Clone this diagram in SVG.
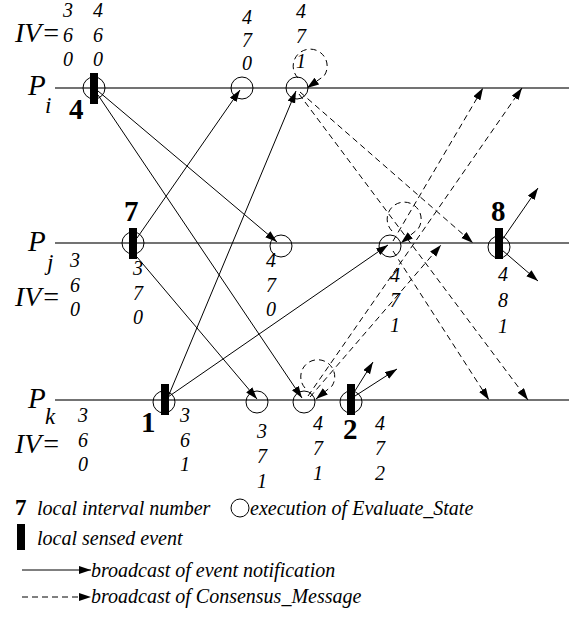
<svg xmlns="http://www.w3.org/2000/svg" width="583" height="619" viewBox="0 0 583 619">
<style>
.proc{stroke:#444;stroke-width:1.3;fill:none}
.ev{fill:none;stroke:#000;stroke-width:1}
.bar{fill:#000}
.sol{stroke:#000;stroke-width:1;fill:none;marker-end:url(#ah)}
.dsh{stroke:#000;stroke-width:1;fill:none;stroke-dasharray:6 4;marker-end:url(#ah)}
.lbl{font-family:'Liberation Serif','Times New Roman',Times,serif;font-style:italic;fill:#000}
.big{font-size:29px}
.sub{font-size:23px}
.iv{font-size:28px}
.col{font-size:20px}
.num{font-family:'Liberation Serif','Times New Roman',Times,serif;font-weight:bold;font-size:29px;fill:#000}
.leg{font-size:20px}
</style>
<defs>
<marker id="ah" markerUnits="userSpaceOnUse" markerWidth="13" markerHeight="9" refX="12" refY="4" orient="auto">
<path d="M0,0 L12,4 L0,8 z" fill="#000"/>
</marker>
</defs>
<g id="process-lines">
<line class="proc" x1="55" y1="88" x2="569" y2="88"/>
<line class="proc" x1="55" y1="243" x2="569" y2="243"/>
<line class="proc" x1="55" y1="400" x2="569" y2="400"/>
</g>
<g id="process-labels" class="lbl">
<text class="big" x="28" y="95">P</text><text class="sub" x="45" y="113">i</text>
<text class="big" x="28" y="251">P</text><text class="sub" x="47" y="270">j</text>
<text class="big" x="28" y="408">P</text><text class="sub" x="45" y="424">k</text>
<text class="iv" x="15" y="42">IV=</text>
<text class="iv" x="15" y="306">IV=</text>
<text class="iv" x="15" y="453">IV=</text>
</g>
<g id="iv-values" class="lbl col">
<text x="63"><tspan x="63" y="17">3</tspan><tspan x="63" y="42">6</tspan><tspan x="63" y="66">0</tspan></text>
<text x="93"><tspan x="93" y="17">4</tspan><tspan x="93" y="42">6</tspan><tspan x="93" y="66">0</tspan></text>
<text x="242"><tspan x="242" y="24">4</tspan><tspan x="242" y="47">7</tspan><tspan x="242" y="70">0</tspan></text>
<text x="296"><tspan x="296" y="18">4</tspan><tspan x="296" y="43">7</tspan><tspan x="296" y="68">1</tspan></text>
<text x="70"><tspan x="70" y="267">3</tspan><tspan x="70" y="292">6</tspan><tspan x="70" y="316">0</tspan></text>
<text x="133"><tspan x="133" y="275">3</tspan><tspan x="133" y="300">7</tspan><tspan x="133" y="324">0</tspan></text>
<text x="266"><tspan x="266" y="267">4</tspan><tspan x="266" y="292">7</tspan><tspan x="266" y="316">0</tspan></text>
<text x="390"><tspan x="390" y="282">4</tspan><tspan x="390" y="307">7</tspan><tspan x="390" y="332">1</tspan></text>
<text x="498"><tspan x="498" y="281">4</tspan><tspan x="498" y="307">8</tspan><tspan x="498" y="333">1</tspan></text>
<text x="78"><tspan x="78" y="422">3</tspan><tspan x="78" y="447">6</tspan><tspan x="78" y="471">0</tspan></text>
<text x="180"><tspan x="180" y="422">3</tspan><tspan x="180" y="447">6</tspan><tspan x="180" y="471">1</tspan></text>
<text x="257"><tspan x="257" y="438">3</tspan><tspan x="257" y="463">7</tspan><tspan x="257" y="488">1</tspan></text>
<text x="313"><tspan x="313" y="430">4</tspan><tspan x="313" y="455">7</tspan><tspan x="313" y="480">1</tspan></text>
<text x="375"><tspan x="375" y="430">4</tspan><tspan x="375" y="455">7</tspan><tspan x="375" y="480">2</tspan></text>
</g>
<g id="pi-e4"><circle class="ev" cx="94" cy="88" r="11"/><rect class="bar" x="90" y="73" width="8" height="31"/><text class="num" x="69" y="119">4</text></g>
<g id="pi-c1"><circle class="ev" cx="242" cy="88" r="11"/></g>
<g id="pi-c2"><circle class="ev" cx="297" cy="88" r="11"/></g>
<g id="pj-e7"><circle class="ev" cx="133" cy="243" r="11"/><rect class="bar" x="129" y="228" width="8" height="31"/><text class="num" x="124" y="221">7</text></g>
<g id="pj-c1"><circle class="ev" cx="281" cy="246" r="11"/></g>
<g id="pj-c2"><circle class="ev" cx="390" cy="246" r="11"/></g>
<g id="pj-e8"><circle class="ev" cx="499" cy="247" r="11"/><rect class="bar" x="495" y="228" width="8" height="31"/><text class="num" x="491" y="221">8</text></g>
<g id="pk-e1"><circle class="ev" cx="164" cy="402" r="11"/><rect class="bar" x="161" y="384" width="8" height="31"/><text class="num" x="141" y="432">1</text></g>
<g id="pk-c1"><circle class="ev" cx="257" cy="402" r="11"/></g>
<g id="pk-c2"><circle class="ev" cx="304" cy="402" r="11"/></g>
<g id="pk-e2"><circle class="ev" cx="351" cy="402" r="11"/><rect class="bar" x="347" y="384" width="8" height="31"/><text class="num" x="343" y="439">2</text></g>
<g id="connectors">
<line class="sol" x1="98" y1="91" x2="277" y2="242"/>
<line class="sol" x1="98" y1="95" x2="302" y2="398"/>
<line class="sol" x1="137" y1="238" x2="240" y2="90"/>
<line class="sol" x1="137" y1="257" x2="257" y2="399"/>
<line class="sol" x1="168" y1="397" x2="296" y2="91"/>
<line class="sol" x1="168" y1="397" x2="388" y2="245"/>
<line class="sol" x1="502" y1="240" x2="538" y2="188"/>
<line class="sol" x1="502" y1="250" x2="538" y2="281"/>
<line class="sol" x1="353" y1="394" x2="373" y2="362"/>
<line class="sol" x1="355" y1="396" x2="397" y2="369"/>
<line class="dsh" x1="300" y1="92" x2="473" y2="243"/>
<line class="dsh" x1="299" y1="94" x2="528" y2="400"/>
<line class="dsh" x1="393" y1="241" x2="483" y2="88"/>
<line class="dsh" x1="393" y1="251" x2="489" y2="400"/>
<line class="dsh" x1="308" y1="396" x2="522" y2="88"/>
<line class="dsh" x1="310" y1="397" x2="441" y2="245"/>
<path class="dsh" d="M298,78 A17,17 0 1 1 324,76 L307,88"/>
<path class="dsh" d="M392,231 A17,17 0 1 1 418,229 L401,243"/>
<path class="dsh" d="M305,388 A17,17 0 1 1 332,386 L316,399"/>
</g>
<g id="legend">
<text class="num" style="font-size:23px" x="15" y="515">7</text>
<text class="lbl leg" x="37" y="515">local interval number</text>
<circle class="ev" cx="240" cy="508" r="9"/>
<text class="lbl leg" x="250" y="515">execution of Evaluate_State</text>
<rect class="bar" x="17" y="524" width="8" height="26"/>
<text class="lbl leg" x="37" y="545">local sensed event</text>
<line class="sol" x1="22" y1="570" x2="91" y2="570"/>
<text class="lbl leg" x="91" y="577">broadcast of event notification</text>
<line class="dsh" x1="22" y1="597" x2="91" y2="597"/>
<text class="lbl leg" x="91" y="603">broadcast of Consensus_Message</text>
</g>
</svg>
